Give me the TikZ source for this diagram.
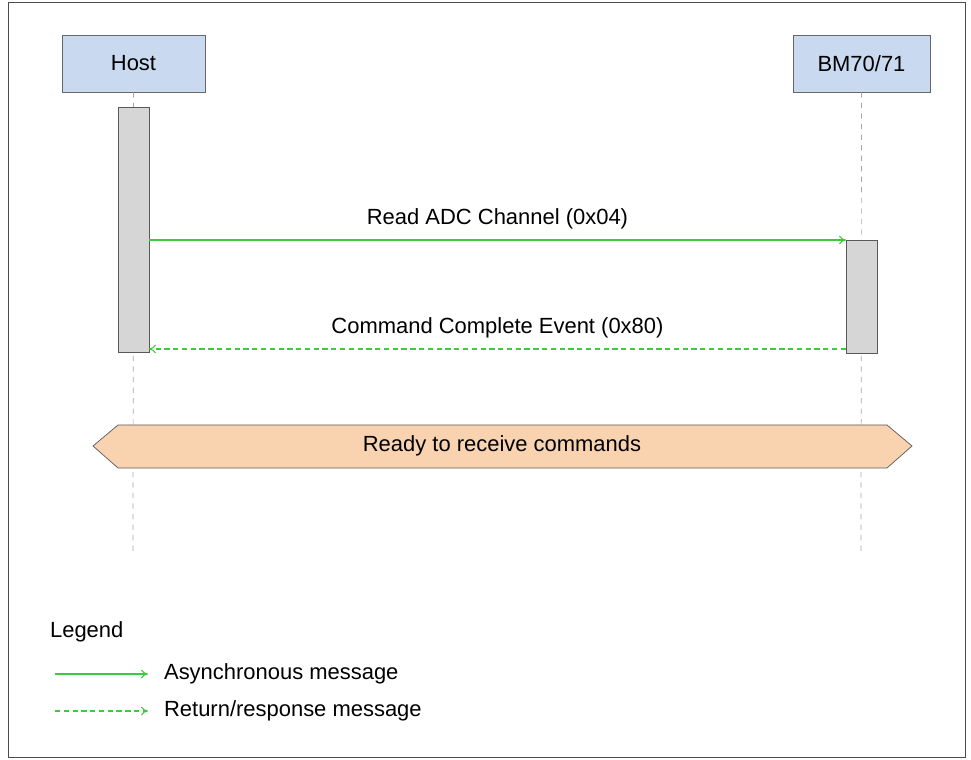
\documentclass[tikz,border=0pt]{standalone}
\usepackage{fontspec}
\setmainfont{Liberation Sans}
\usetikzlibrary{arrows.meta}

\definecolor{boxblue}{HTML}{C9DAF0}
\definecolor{actgray}{HTML}{D6D6D6}
\definecolor{peach}{HTML}{F9D3B0}
\definecolor{msggreen}{HTML}{3CCB3C}

\tikzset{
	actor/.style={draw=gray!80!black,fill=boxblue,minimum width=2.86cm,minimum height=1.14cm,font=\fontsize{12.5}{15}\selectfont},
	act/.style={draw=gray!70!black,fill=actgray},
	life/.style={draw=gray!70,dashed},
	msg/.style={draw=msggreen,line width=0.6pt,->,>={To[length=4pt,width=5pt,open]}},
	lbl/.style={font=\fontsize{12.5}{15}\selectfont,inner sep=1pt}
}

\begin{document}
\begin{tikzpicture}[x=0.02cm,y=-0.02cm]
	\useasboundingbox (0,0) rectangle (971,760);
	\draw[gray!60!black] (8,2) rectangle (965,757);

	% lifelines
	\node[actor] (host) at (133.5,63.5) {Host};
	\node[actor,minimum width=2.74cm] (bm) at (861.5,63.5) {BM70/71};
	\coordinate (hostend) at (133,552);
	\coordinate (bmend) at (861,552);
	\draw[life] (host.south) -- (hostend);
	\draw[life] (bm.south) -- (bmend);

	% activations
	\draw[act] (118,107) rectangle (149,352);
	\draw[act] (846,240) rectangle (877,353);
	\coordinate (hs) at (149,240);
	\coordinate (bs) at (846,240);
	\coordinate (hr) at (149,349);
	\coordinate (br) at (846,349);

	% messages
	\draw[msg] (hs) -- node[lbl,above=5pt] {Read ADC Channel (0x04)} (bs);
	\draw[msg,dash pattern=on 3pt off 2pt] (br) -- node[lbl,above=5pt] {Command Complete Event (0x80)} (hr);

	% banner
	\draw[draw=gray!70!black,fill=peach] (93,446) -- (118,425) -- (887,425) -- (912,446)
		-- (887,468) -- (118,468) -- cycle;
	\node[lbl] (ready) at (502,446) {Ready to receive commands};

	% legend
	\node[lbl,anchor=west] (legend) at (48,632) {Legend};
	\coordinate (la) at (55,674);
	\coordinate (lb) at (148,674);
	\coordinate (lc) at (55,711);
	\coordinate (ld) at (148,711);
	\draw[msg] (la) -- (lb);
	\draw[msg,dash pattern=on 3pt off 2pt] (lc) -- (ld);
	\node[lbl,anchor=west] (async) at (162,674) {Asynchronous message};
	\node[lbl,anchor=west] (ret) at (162,711) {Return/response message};
\end{tikzpicture}
\end{document}
